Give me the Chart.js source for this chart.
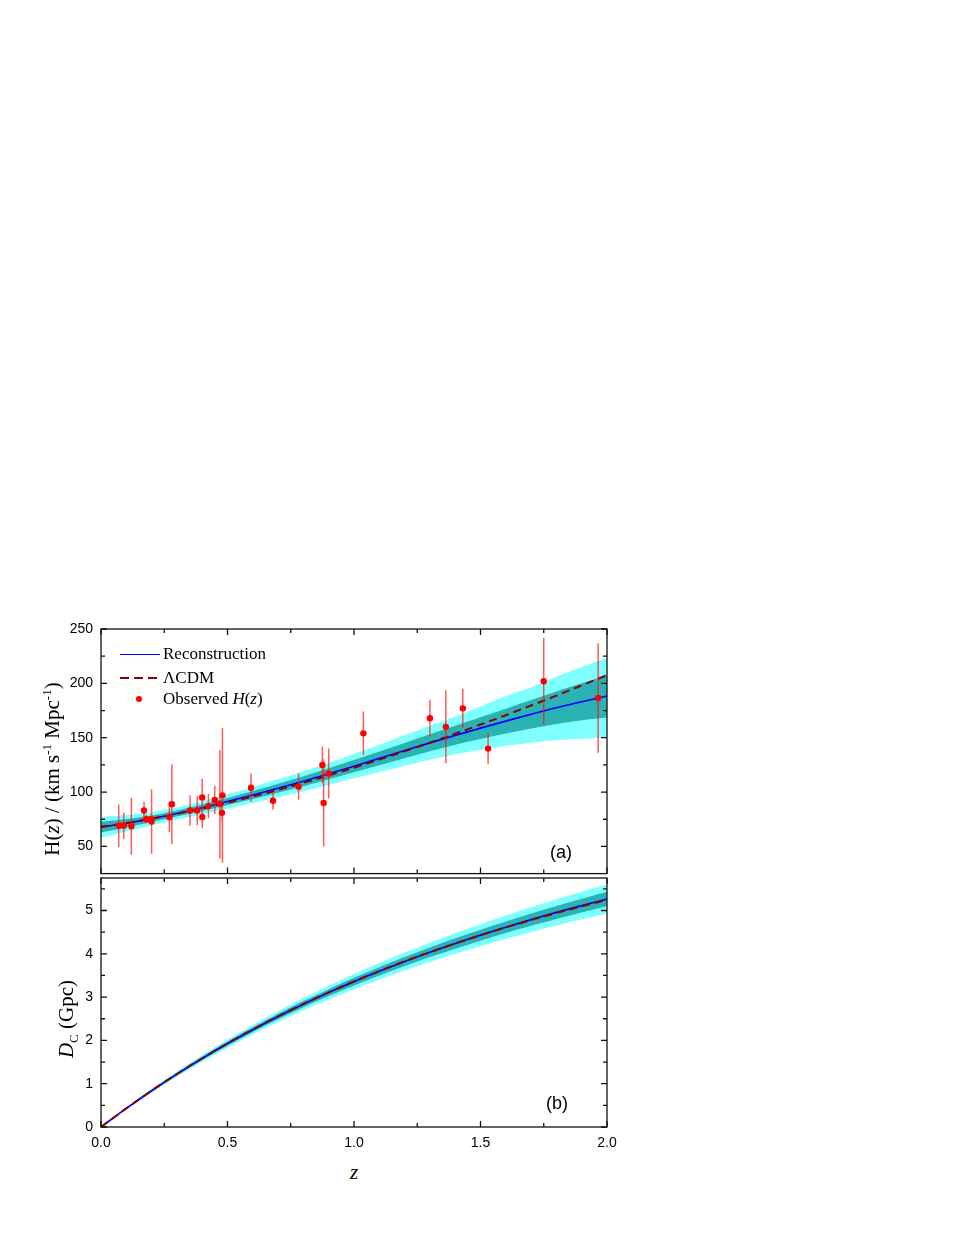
<!DOCTYPE html>
<html><head><meta charset="utf-8">
<script src="https://cdn.jsdelivr.net/npm/chart.js@4.4.0/dist/chart.umd.min.js"></script>
<style>
html,body{margin:0;padding:0;background:#fff;width:955px;height:1236px;overflow:hidden;position:relative;}
canvas{position:absolute;left:0;}
.t{position:absolute;white-space:nowrap;color:#000;line-height:20px;}
.serif{font-family:"Liberation Serif","Times New Roman",serif;}
.sans{font-family:"Liberation Sans",Arial,sans-serif;}
.rot{transform:translate(-50%,-50%) rotate(-90deg);transform-origin:50% 50%;line-height:21px;}
sup,sub{font-size:62%;line-height:0;}
</style></head><body>
<canvas id="cA" width="640" height="290" style="top:600px;width:640px;height:290px"></canvas>
<canvas id="cB" width="640" height="300" style="top:860px;width:640px;height:300px"></canvas>

<div style="position:absolute;left:120px;top:653.5px;width:40px;height:1.6px;background:#0000ff"></div>
<div style="position:absolute;left:120px;top:676.5px;width:37px;height:2px;background:repeating-linear-gradient(to right,#8b0000 0 9px,transparent 9px 14px)"></div>
<div style="position:absolute;left:136px;top:695.5px;width:6px;height:6px;border-radius:50%;background:#ff0000"></div>
<div class="t serif" style="left:163px;top:644px;font-size:17px">Reconstruction</div>
<div class="t serif" style="left:163px;top:668px;font-size:17px">ΛCDM</div>
<div class="t serif" style="left:163px;top:689px;font-size:17px">Observed <i>H</i>(<i>z</i>)</div>

<div class="t serif rot" style="left:52px;top:769px;font-size:21px">H(<i>z</i>) / (km s<sup>-1</sup> Mpc<sup>-1</sup>)</div>
<div class="t serif rot" style="left:66px;top:1019px;font-size:21px"><i>D</i><sub>C</sub> (Gpc)</div>
<div class="t serif" style="left:354px;top:1172px;font-size:21px;transform:translate(-50%,-50%)"><i>z</i></div>
<div class="t sans" style="left:561px;top:852px;font-size:18px;transform:translate(-50%,-50%)">(a)</div>
<div class="t sans" style="left:557px;top:1103px;font-size:18px;transform:translate(-50%,-50%)">(b)</div>

<script>
// ---------------- DATA ----------------
const zGrid = [0,0.1,0.2,0.3,0.4,0.5,0.6,0.7,0.8,0.9,1.0,1.1,1.2,1.3,1.4,1.5,1.6,1.7,1.8,1.9,2.0];

// Panel (a): H(z)
const hRec   = [67.8,71.3,75.5,80.3,85.6,91.3,97.3,103.5,110.0,116.8,123.8,131.0,138.2,145.3,152.2,158.8,165.3,171.6,177.6,183.1,188.2];
const hLcdm  = [68.0,71.5,75.5,80.0,84.9,90.2,95.9,102.0,108.5,115.3,122.4,129.8,137.5,145.4,153.6,162.1,170.7,179.6,188.7,198.1,207.6];
const hInUp  = [72.8,75.1,78.5,83.1,88.6,94.6,101.0,107.6,114.6,121.9,129.4,137.3,145.2,153.1,160.9,168.8,176.7,184.7,192.6,200.1,207.7];
const hInLo  = [62.8,67.5,72.5,77.5,82.6,88.0,93.6,99.4,105.4,111.7,118.2,124.7,131.2,137.5,143.5,148.8,153.9,158.5,162.6,166.1,168.7];
const hOutUp = [77.3,78.9,81.5,85.9,91.6,97.9,104.7,111.7,119.2,127.0,135.0,143.6,152.2,160.9,169.6,178.8,188.1,196.5,206.0,215.0,223.5];
const hOutLo = [58.3,63.7,69.5,74.7,79.6,84.7,89.9,95.3,100.8,106.6,112.6,118.4,124.2,129.7,134.8,138.8,142.5,145.4,147.6,149.1,150.2];

// Observed H(z)
const obsZ   = [0.07,0.09,0.12,0.17,0.179,0.199,0.2,0.27,0.28,0.352,0.3802,0.4,0.4004,0.4247,0.4497,0.47,0.4783,0.48,0.593,0.68,0.781,0.875,0.88,0.9,1.037,1.3,1.363,1.43,1.53,1.75,1.965];
const obsH   = [69,69,68.6,83,75,75,72.9,77,88.8,83,83,95,77,87.1,92.8,89,80.9,97,104,92,105,125,90,117,154,168,160,177,140,202,186.5];
const obsErr = [19.6,12,26.2,8,4,5,29.6,14,36.6,14,13.5,17,10.2,11.2,12.9,50,9,62,13,8,12,17,40,23,20,17,33.6,18,14,40,50.4];

// Panel (b): D_C(z) in Gpc
const dRec   = [0,0.429,0.836,1.221,1.584,1.926,2.248,2.551,2.836,3.104,3.357,3.595,3.821,4.035,4.237,4.430,4.613,4.788,4.955,5.113,5.264];
const dLcdm  = [0,0.430,0.838,1.224,1.588,1.931,2.253,2.557,2.842,3.110,3.362,3.600,3.825,4.037,4.238,4.428,4.608,4.779,4.942,5.097,5.245];
const dInUp  = [0,0.441,0.858,1.252,1.623,1.973,2.303,2.614,2.907,3.183,3.444,3.690,3.924,4.146,4.356,4.557,4.748,4.931,5.106,5.272,5.431];
const dInLo  = [0,0.417,0.814,1.190,1.545,1.879,2.193,2.488,2.765,3.025,3.270,3.500,3.718,3.924,4.118,4.303,4.478,4.645,4.804,4.954,5.097];
const dOutUp = [0,0.453,0.880,1.283,1.662,2.020,2.358,2.677,2.978,3.262,3.531,3.785,4.027,4.257,4.475,4.684,4.883,5.074,5.257,5.431,5.598];
const dOutLo = [0,0.405,0.792,1.159,1.506,1.832,2.138,2.425,2.694,2.946,3.183,3.405,3.615,3.813,3.999,4.176,4.343,4.502,4.653,4.795,4.930];

// Ticks
const zTicks  = [0,0.5,1.0,1.5,2.0];
const zMinor  = [0.25,0.75,1.25,1.75];
const hTicks  = [50,100,150,200,250];
const hMinor  = [75,125,175,225];
const dTicks  = [0,1,2,3,4,5];
const dMinor  = [0.5,1.5,2.5,3.5,4.5,5.5];

// ---------------- STYLE / HELPERS ----------------
const C_OUT = '#80ffff', C_IN = '#2bb3b3', C_REC = '#0000ff', C_LCDM = '#8b0000';
const pts = arr => zGrid.map((z,i)=>({x:z,y:arr[i]}));
const errData = [];
obsZ.forEach((z,i)=>{ errData.push({x:z,y:obsH[i]-obsErr[i]},{x:z,y:obsH[i]+obsErr[i]},{x:z,y:null}); });

function frameTicks(yMaj, yMin){
  return {
    id:'frameTicks',
    afterDraw(chart){
      const {ctx, chartArea:a, scales} = chart;
      const x = scales.x, y = scales.y;
      ctx.save();
      ctx.strokeStyle = '#111'; ctx.lineWidth = 1.3;
      ctx.strokeRect(a.left, a.top, a.right - a.left, a.bottom - a.top);
      ctx.beginPath();
      const xt = (v,len)=>{ const p = x.getPixelForValue(v); ctx.moveTo(p,a.bottom); ctx.lineTo(p,a.bottom-len); ctx.moveTo(p,a.top); ctx.lineTo(p,a.top+len); };
      const yt = (v,len)=>{ const p = y.getPixelForValue(v); ctx.moveTo(a.left,p); ctx.lineTo(a.left+len,p); ctx.moveTo(a.right,p); ctx.lineTo(a.right-len,p); };
      zTicks.forEach(v=>xt(v,6)); zMinor.forEach(v=>xt(v,4));
      yMaj.forEach(v=>yt(v,6)); yMin.forEach(v=>yt(v,4));
      ctx.stroke();
      ctx.restore();
    }
  };
}

const tickFont = {family:'"Liberation Sans", Arial, sans-serif', size:14};
const band = (data, fill, color, order)=>({type:'line', data, fill, backgroundColor:color, borderWidth:0, pointRadius:0, cubicInterpolationMode:'monotone', order});
const curve = (data, color, width, dash, order)=>({type:'line', data, fill:false, borderColor:color, borderWidth:width, borderDash:dash, pointRadius:0, cubicInterpolationMode:'monotone', order});
const noGrid = {display:false, drawTicks:false, tickLength:0};

// ---------------- PANEL (a) ----------------
new Chart(document.getElementById('cA'), {
  type:'line',
  data:{ datasets:[
    band(pts(hOutUp), '+1', C_OUT, 10),
    band(pts(hOutLo), false, C_OUT, 9),
    band(pts(hInUp), '+1', C_IN, 8),
    band(pts(hInLo), false, C_IN, 7),
    curve(pts(hRec), C_REC, 1.7, [], 4),
    curve(pts(hLcdm), C_LCDM, 2, [8,5], 3),
    {type:'line', data:errData, borderColor:'rgba(255,20,20,0.7)', borderWidth:1.5, pointRadius:0, spanGaps:false, tension:0, fill:false, order:2},
    {type:'line', data:obsZ.map((z,i)=>({x:z,y:obsH[i]})), showLine:false, pointRadius:3.2, pointBackgroundColor:'#ff0000', pointBorderWidth:0, order:1}
  ]},
  options:{
    responsive:false, animation:false, devicePixelRatio:1,
    layout:{padding:{top:29,right:33,bottom:12,left:0}},
    plugins:{legend:{display:false}, tooltip:{enabled:false}},
    scales:{
      x:{type:'linear', min:0, max:2, display:false, offset:false},
      y:{type:'linear', min:25, max:250,
         afterBuildTicks:s=>{ s.ticks = hTicks.map(v=>({value:v})); },
         afterFit:s=>{ s.width = 101; },
         grid:noGrid, border:{display:false},
         ticks:{font:tickFont, color:'#000', padding:8}}
    }
  },
  plugins:[frameTicks(hTicks,hMinor)]
});

// ---------------- PANEL (b) ----------------
new Chart(document.getElementById('cB'), {
  type:'line',
  data:{ datasets:[
    band(pts(dOutUp), '+1', C_OUT, 10),
    band(pts(dOutLo), false, C_OUT, 9),
    band(pts(dInUp), '+1', C_IN, 8),
    band(pts(dInLo), false, C_IN, 7),
    curve(pts(dRec), C_REC, 1.7, [], 4),
    curve(pts(dLcdm), C_LCDM, 2, [8,5], 3)
  ]},
  options:{
    responsive:false, animation:false, devicePixelRatio:1,
    layout:{padding:{top:18,right:33,bottom:0,left:0}},
    plugins:{legend:{display:false}, tooltip:{enabled:false}},
    scales:{
      x:{type:'linear', min:0, max:2, offset:false,
         afterBuildTicks:s=>{ s.ticks = zTicks.map(v=>({value:v})); },
         afterFit:s=>{ s.height = 33; },
         grid:noGrid, border:{display:false},
         ticks:{font:tickFont, color:'#000', padding:8, maxRotation:0, autoSkip:false, callback:v=>Number(v).toFixed(1)}},
      y:{type:'linear', min:0, max:5.75,
         afterBuildTicks:s=>{ s.ticks = dTicks.map(v=>({value:v})); },
         afterFit:s=>{ s.width = 101; },
         grid:noGrid, border:{display:false},
         ticks:{font:tickFont, color:'#000', padding:8}}
    }
  },
  plugins:[frameTicks(dTicks,dMinor)]
});
</script>
</body></html>
